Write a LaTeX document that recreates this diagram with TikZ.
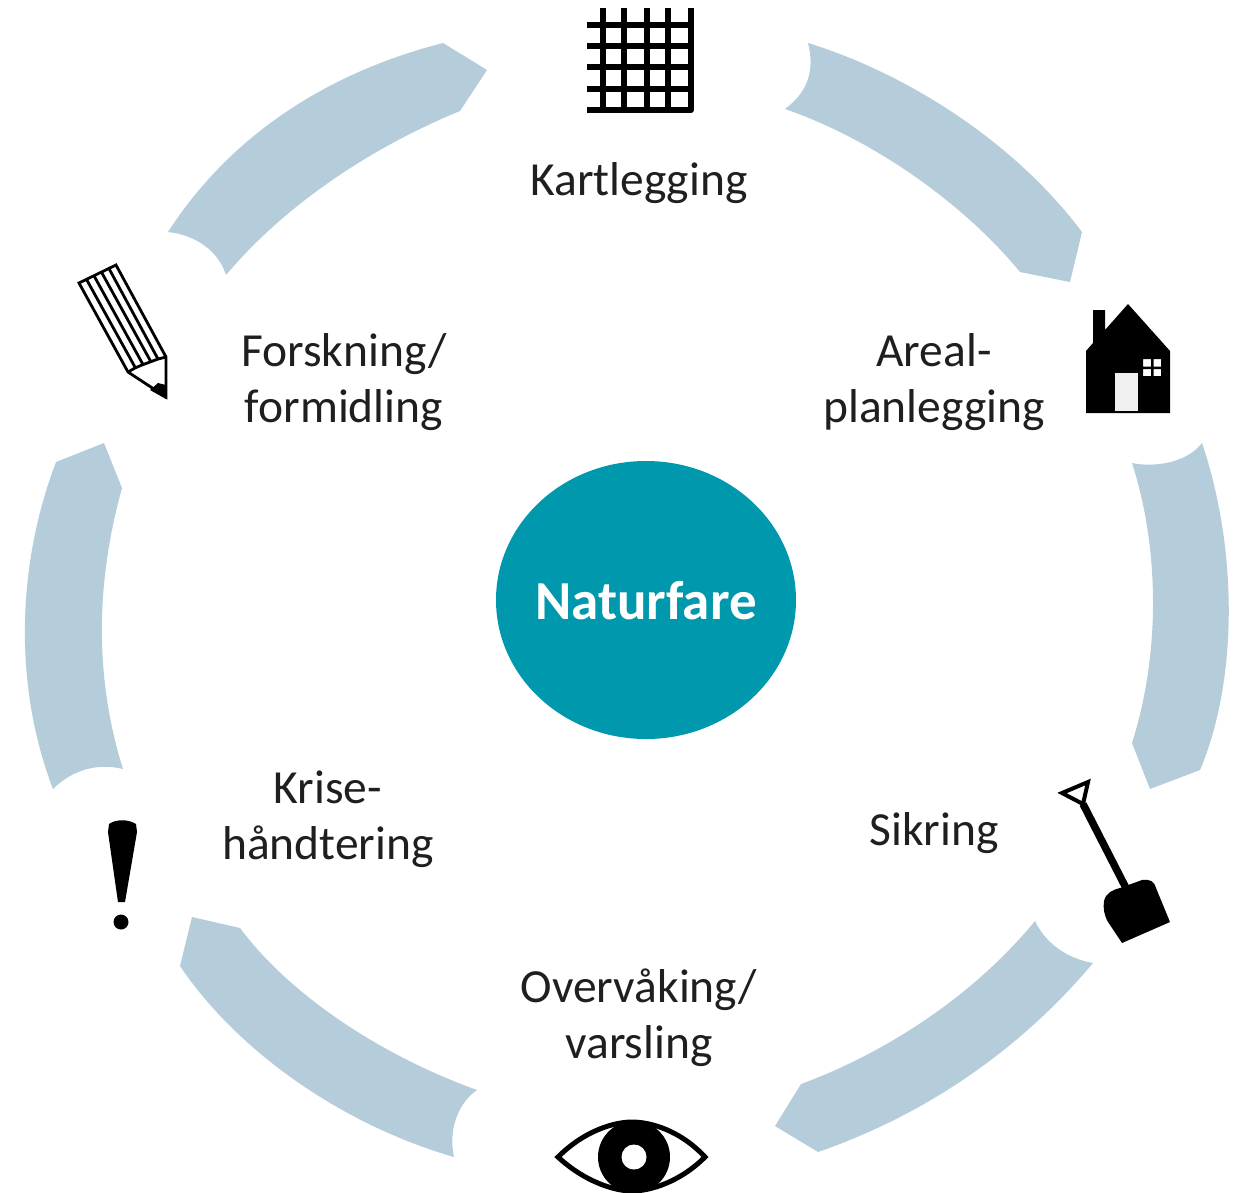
\documentclass[tikz,border=0pt]{standalone}
\usepackage{fontspec}
\usetikzlibrary{shapes.geometric}
\setmainfont{Carlito}
\definecolor{arcblue}{HTML}{B5CCDB}
\definecolor{hubteal}{HTML}{0098AC}
\tikzset{
 arcseg/.style={fill=arcblue,draw=none},
 lbl/.style={font=\fontsize{47.5}{56}\selectfont,align=center,text=black!88,inner sep=0pt},
 icon/.style={fill=black,draw=none},
 iconline/.style={draw=black,line join=miter}
}
\begin{document}
\begin{tikzpicture}[x=1pt,y=-1pt]
\useasboundingbox (0,0) rectangle (1246,1192);
\fill[white] (0,0) rectangle (1246,1192);
% arc segments
\path[arcseg] (168,232) .. controls (232,133) and (330,72) .. (443,43) -- (487,70) -- (460,111) .. controls (370,148) and (285,205) .. (226,275) .. controls (218,250) and (195,235) .. (168,232) -- cycle;
\path[arcseg] (808,43) .. controls (890,68) and (1005,130) .. (1082,232) -- (1070,282) -- (1020,272) .. controls (965,205) and (875,140) .. (785,109) .. controls (808,92) and (815,70) .. (808,43) -- cycle;
\path[arcseg] (1202,443) .. controls (1238,550) and (1238,680) .. (1200,770) -- (1150,789) -- (1132,743) .. controls (1160,655) and (1160,550) .. (1132,463) .. controls (1150,467) and (1185,465) .. (1202,443) -- cycle;
\path[arcseg] (1093,963) .. controls (1020,1050) and (925,1115) .. (818,1152) -- (775,1126) -- (801,1084) .. controls (880,1055) and (970,1000) .. (1035,921) .. controls (1045,942) and (1065,958) .. (1093,963) -- cycle;
\path[arcseg] (192,917) -- (240,928) .. controls (290,995) and (380,1055) .. (477,1090) .. controls (458,1103) and (448,1130) .. (454,1157) .. controls (343,1125) and (238,1052) .. (180,966) -- cycle;
\path[arcseg] (122,488) -- (104,443) -- (56,462) .. controls (15,570) and (15,690) .. (53,789) .. controls (70,772) and (95,762) .. (123,769) .. controls (95,680) and (95,585) .. (122,488) -- cycle;
% centre
\node[ellipse,fill=hubteal,inner sep=0pt,minimum width=300pt,minimum height=278pt] (centre) at (646,600) {};
\node[text=white,font=\fontsize{55}{60}\selectfont\bfseries,inner sep=0pt] (naturfare) at (646,601) {Naturfare};
% labels
\node[lbl] (kart) at (639,183) {Kartlegging};
\node[lbl] (areal) at (934,382) {Areal-\\planlegging};
\node[lbl] (sikring) at (934,833) {Sikring};
\node[lbl] (overv) at (639,1018) {Overvåking/\\varsling};
\node[lbl] (krise) at (328,819) {Krise-\\håndtering};
\node[lbl] (forsk) at (344,382) {Forskning/\\formidling};
% map grid
\begin{scope}[iconline,line width=6pt]
\foreach \x in {603,624,647,668} \draw (\x,8) -- (\x,110);
\foreach \y in {25,46,67,89} \draw (587,\y) -- (691,\y);
\draw[line join=round] (691,8) -- (691,110) -- (587,110);
\end{scope}
% house
\path[icon,even odd rule] (1086,413) -- (1086,351) -- (1093,343) -- (1093,310) -- (1105,310) -- (1105,330) -- (1128,304) -- (1170,351) -- (1170,413) -- cycle
 (1115,373) rectangle (1138,411)
 (1143,359) rectangle (1151,366.5) (1153.5,359) rectangle (1161,366.5)
 (1143,369) rectangle (1151,376) (1153.5,369) rectangle (1161,376);
\fill[black!6] (1115,373) rectangle (1138,411);
% shovel
\draw[iconline,line width=4pt] (1062,793) -- (1088,782) -- (1083,804) -- cycle;
\draw[iconline,line width=7.5pt] (1083,804) -- (1126,888);
\path[icon] (1104,901) .. controls (1106,893) and (1112,890) .. (1120,888) -- (1142,880) .. controls (1150,879) and (1154,881) .. (1156,888) -- (1170,922) -- (1122,943) -- (1108,922) .. controls (1104,915) and (1103,908) .. (1104,901) -- cycle;
% eye
\draw[iconline,line width=5pt,line join=miter] (558,1157) .. controls (585,1130) and (615,1122) .. (632,1122) .. controls (650,1122) and (680,1130) .. (705,1157) .. controls (680,1182) and (650,1191) .. (632,1191) .. controls (615,1191) and (585,1182) .. (558,1157) -- cycle;
\fill[black] (634,1157) circle (36pt);
\fill[white] (634,1157) circle (12.5pt);
% exclamation
\path[icon] (109,824) .. controls (116,819) and (128,819) .. (136,824) -- (137,832) -- (125,902) -- (118,902) -- (108,832) -- cycle;
\fill[black] (121,922) circle (7.5pt);
% pencil
\begin{scope}[iconline,line width=2.8pt]
\draw (79,283) -- (116,265) -- (166,357) -- (166,397) -- (128,372) -- cycle;
\draw (86.5,279.4) -- (135.5,368);
\draw (94,275.8) -- (143,364.5);
\draw (101.5,272.2) -- (150.5,361);
\draw (109,268.6) -- (158,359);
\draw (128,372) -- (135,368) -- (142,365) -- (150,362) -- (158,359) -- (166,357);
\end{scope}
\path[icon] (166,385) -- (166,399) -- (150,390) -- (158,383) -- cycle;
\end{tikzpicture}
\end{document}
